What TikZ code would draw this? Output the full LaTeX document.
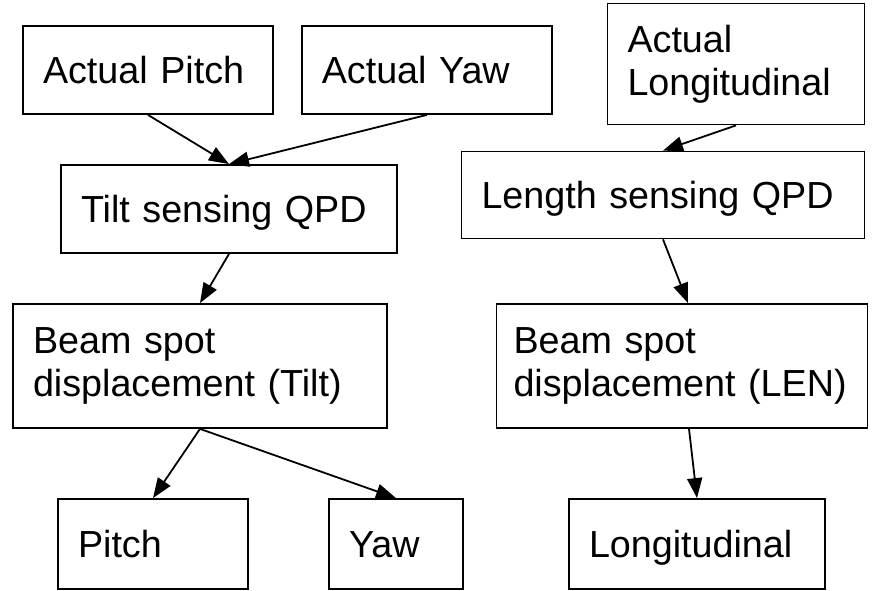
\documentclass[tikz,border=0pt]{standalone}
\usepackage{fontspec}
\setmainfont{Liberation Sans}
\usetikzlibrary{arrows.meta,positioning}

\newcommand\nodp[1]{\raisebox{0pt}[\height][0pt]{\vphantom{Pitch}#1}}

\tikzset{
box/.style={draw, line width=1.8pt, inner xsep=20pt, inner ysep=0pt, align=left,
  font=\fontsize{37.7}{43}\selectfont},
flow/.style={line width=1.8pt, -{Triangle[length=20pt,width=15pt]}}
}

\begin{document}
\begin{tikzpicture}[x=1pt,y=-1pt]
\useasboundingbox (0,0) rectangle (873,591);
% inputs
\node[box, text width=210pt, minimum height=88pt] (ap) at (148,70) {\nodp{Actual Pitch}};
\node[box, text width=210pt, minimum height=88pt, right=27pt of ap] (ay) {\nodp{Actual Yaw}};
\node[box, text width=217pt, minimum height=121pt] (al) at (736,64) {Actual\\Longitudinal};
% sensors
\node[box, text width=296pt, minimum height=88pt] (tq) at (229,209) {\nodp{Tilt sensing QPD}};
\node[box, text width=363pt, minimum height=87pt] (lq) at (663,195) {\nodp{Length sensing QPD}};
% spot
\node[box, text width=334pt, minimum height=124pt] (bt) at (200,366) {Beam spot\\displacement (Tilt)};
\node[box, text width=337pt, inner xsep=17pt, minimum height=124pt] (bl) at (682,366) {Beam spot\\displacement (LEN)};
% outputs
\node[box, text width=150pt, minimum height=90pt] (pi) at (153,544) {\nodp{Pitch}};
\node[box, text width=94pt, minimum height=90pt] (ya) at (396,544) {\nodp{Yaw}};
\node[box, text width=216pt, minimum height=90pt] (lo) at (697,544) {\nodp{Longitudinal}};

\draw[flow] (ap.south) -- (tq.north);
\draw[flow] (ay.south) -- (tq.north);
\draw[flow] (al.south) -- (lq.north);
\draw[flow] (tq.south) -- (bt.north);
\draw[flow] (lq.south) -- ([xshift=6pt]bl.north);
\draw[flow] (bt.south) -- (pi.north);
\draw[flow] (bt.south) -- (ya.north);
\draw[flow] ([xshift=7pt]bl.south) -- (lo.north);
\end{tikzpicture}
\end{document}
